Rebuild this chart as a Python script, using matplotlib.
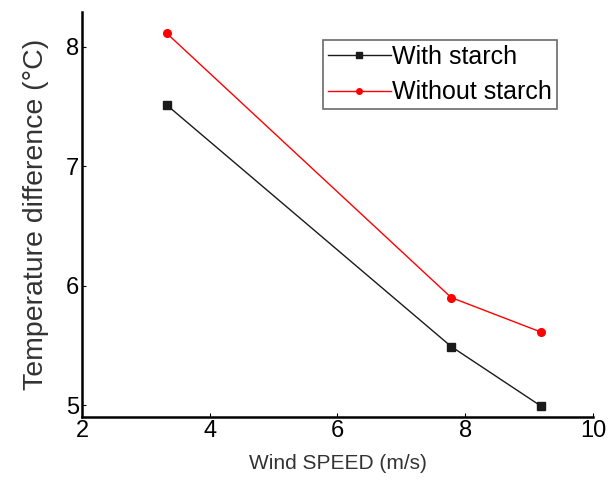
import matplotlib
matplotlib.use("Agg")
import matplotlib.pyplot as plt

# Data
wind_speed = [3.33, 7.78, 9.19]
with_starch = [7.51, 5.49, 4.99]
without_starch = [8.11, 5.90, 5.61]

x_ticks = [2, 4, 6, 8, 10]
y_ticks = [5, 6, 7, 8]

plt.rcParams['font.family'] = ['Liberation Sans', 'DejaVu Sans']

fig = plt.figure(figsize=(6.11, 4.91), dpi=100)
ax = fig.add_axes([0.1342, 0.1507, 0.8363, 0.8249])

ax.plot(wind_speed, with_starch, color="#1a1a1a", lw=1.0, marker="s",
        markersize=6, label="With starch")
ax.plot(wind_speed, without_starch, color="red", lw=1.0, marker="o",
        markersize=5.5, label="Without starch")

ax.set_xlim(2, 10)
ax.set_ylim(4.90, 8.29)
ax.set_xticks(x_ticks)
ax.set_yticks(y_ticks)
ax.tick_params(direction="in", length=3, labelsize=17, pad=2)

for side in ("top", "right"):
    ax.spines[side].set_visible(False)
for side in ("left", "bottom"):
    ax.spines[side].set_linewidth(1.8)

ax.set_xlabel("Wind SPEED (m/s)", fontsize=15, color="#333333", labelpad=9)
ax.set_ylabel("Temperature difference (°C)", fontsize=20.5, color="#333333",
              labelpad=12)

leg = ax.legend(loc="upper left", bbox_to_anchor=(323 / 611, 1 - 40 / 491),
                bbox_transform=fig.transFigure, fontsize=18, frameon=True,
                fancybox=False, edgecolor="#444444", handlelength=2.5,
                handletextpad=0.05, borderpad=0.2, labelspacing=0.45,
                borderaxespad=0)
leg.get_frame().set_linewidth(1.2)
for h in leg.get_lines():
    h.set_markersize(4)

fig.savefig("out.png", dpi=100)
